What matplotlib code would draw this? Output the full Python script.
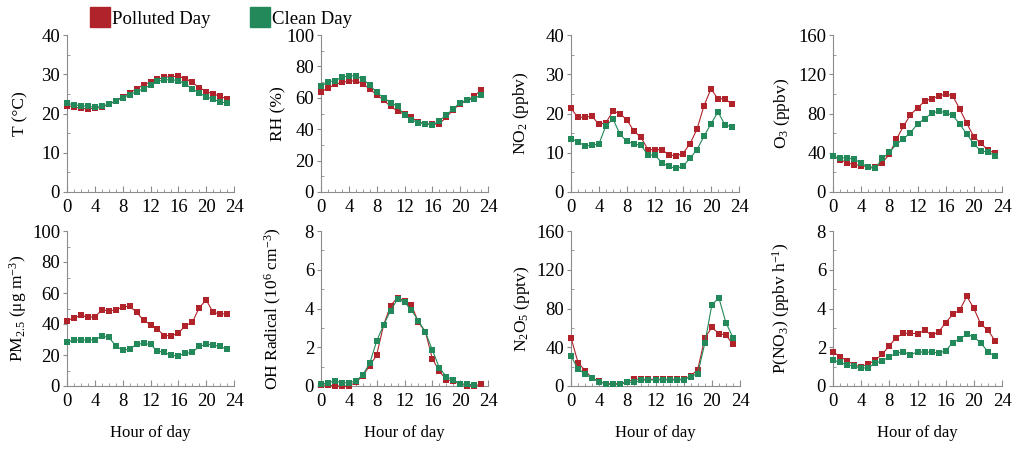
import numpy as np
import matplotlib
matplotlib.use("Agg")
import matplotlib.pyplot as plt
from matplotlib.lines import Line2D
from matplotlib.ticker import MultipleLocator

plt.rcParams['font.family'] = ['Liberation Serif', 'DejaVu Serif']
plt.rcParams['mathtext.fontset'] = 'custom'
plt.rcParams['mathtext.rm'] = 'Liberation Serif'
plt.rcParams['mathtext.it'] = 'Liberation Serif:italic'

hours = np.arange(24)

t_poll = [22.0, 21.7, 21.3, 21.2, 21.3, 21.6, 22.3, 23.2, 24.2, 25.3, 26.3, 27.3,
          28.0, 28.7, 29.2, 29.4, 29.5, 28.9, 27.9, 26.6, 25.6, 25.0, 24.4, 23.7]
t_clean = [22.6, 22.2, 22.0, 21.8, 21.6, 21.8, 22.4, 23.2, 24.0, 24.8, 25.6, 26.3,
           27.3, 28.2, 28.6, 28.6, 28.4, 27.5, 26.3, 25.2, 24.3, 23.6, 23.0, 22.6]

rh_poll = [64, 66, 68.5, 70, 70.5, 71, 69, 65.5, 62, 58.5, 54.5, 51.5,
           49.5, 47.5, 44.5, 43.5, 43, 43.5, 47.5, 52.5, 56, 58.5, 61, 65]
rh_clean = [67.5, 70, 71, 73, 74, 74, 72, 68, 63.5, 60, 57, 54.5,
            49, 46, 44, 43.5, 42.5, 45.5, 49, 53, 57, 58.5, 59.5, 62]

no2_poll = [21.3, 19.0, 19.1, 19.3, 17.2, 17.7, 20.6, 20.0, 18.3, 15.5, 13.9, 10.8,
            10.8, 10.8, 9.4, 9.2, 9.8, 12.3, 16.0, 22.0, 26.3, 23.7, 23.8, 22.3]
no2_clean = [13.6, 12.8, 11.7, 11.9, 12.3, 16.9, 18.6, 14.7, 12.9, 12.3, 11.9, 9.4,
             9.4, 7.4, 6.5, 6.0, 6.6, 8.6, 10.8, 14.2, 17.4, 20.4, 17.1, 16.6]

o3_poll = [36.6, 33, 30, 27.7, 27, 25.7, 25, 30, 38.4, 53.8, 66.8, 78.8,
           85.6, 92.5, 95.2, 97.6, 100, 98, 84.6, 69.9, 56.5, 49.7, 42.8, 39.4]
o3_clean = [36.3, 34.6, 34.9, 33.2, 29.8, 25, 24, 34.2, 40.4, 48.6, 54.1, 60.6,
            69.2, 74.7, 80.1, 82.5, 80.8, 78, 69.2, 58.9, 49, 41.8, 40.8, 37]

pm_poll = [42, 44, 45.5, 44.5, 44.5, 49, 48.5, 49, 51, 51.5, 47.5, 42.5,
           39.5, 36.5, 32.5, 32.5, 34, 39, 41, 50.5, 55.5, 47.5, 46.5, 46.5]
pm_clean = [28.5, 29.5, 29.7, 29.7, 30, 32, 31.5, 26, 23, 24, 26.8, 27.5,
            26.8, 22.5, 21.7, 19.7, 19.5, 21, 21.7, 25.5, 26.8, 26.5, 25.5, 23.7]

oh_poll = [0.05, 0.05, 0.0, 0.0, 0.0, 0.19, 0.52, 1.05, 1.6, 3.15, 4.15, 4.56,
           4.39, 4.18, 3.29, 2.8, 1.41, 0.77, 0.33, 0.26, 0.09, 0.02, 0.0, 0.09]
oh_clean = [0.09, 0.17, 0.26, 0.17, 0.17, 0.26, 0.57, 1.17, 2.32, 3.15, 3.89, 4.49,
            4.32, 3.92, 3.36, 2.79, 1.86, 0.95, 0.48, 0.33, 0.09, 0.12, 0.03, np.nan]

n2o5_poll = [50, 24, 16, 8, 4.8, 2.4, 2.4, 2.4, 4.5, 6.9, 6.9, 6.9,
             6.9, 6.9, 6.9, 6.9, 6.9, 10.4, 17, 49.5, 60.5, 54, 52.6, 43]
n2o5_clean = [31, 17.6, 12.5, 7.9, 4.5, 1.7, 1.7, 1.7, 3.8, 3.8, 5.9, 6.2,
              6.2, 6.5, 6.2, 6.2, 6.5, 9.7, 12.8, 44, 83.7, 91, 65.4, 50]

pno3_poll = [1.77, 1.51, 1.31, 1.08, 1.0, 1.12, 1.34, 1.64, 2.08, 2.5, 2.72, 2.72,
             2.7, 2.87, 2.63, 2.79, 3.27, 3.7, 3.92, 4.63, 4.01, 3.18, 2.89, 2.34]
pno3_clean = [1.34, 1.22, 1.08, 1.03, 0.91, 0.95, 1.17, 1.31, 1.51, 1.69, 1.77, 1.6,
              1.77, 1.74, 1.76, 1.7, 1.82, 2.24, 2.43, 2.67, 2.53, 2.22, 1.77, 1.53]

ylabels = ['T (°C)', 'RH (%)', 'NO$_2$ (ppbv)', 'O$_3$ (ppbv)',
           'PM$_{2.5}$ (μg m$^{-3}$)', 'OH Radical (10$^6$ cm$^{-3}$)',
           'N$_2$O$_5$ (pptv)', 'P(NO$_3$) (ppbv h$^{-1}$)']
ymax = [40, 100, 40, 160, 100, 8, 160, 8]
ystep = [10, 20, 10, 40, 20, 2, 40, 2]
series = [(t_poll, t_clean), (rh_poll, rh_clean), (no2_poll, no2_clean),
          (o3_poll, o3_clean), (pm_poll, pm_clean), (oh_poll, oh_clean),
          (n2o5_poll, n2o5_clean), (pno3_poll, pno3_clean)]

red = '#B0232B'
green = '#23885A'
axis_col = '#8c8c8c'

W, H = 1021, 455
fig = plt.figure(figsize=(W / 100, H / 100), dpi=100)

# pixel boxes: left, top, right, bottom
boxes = [(67, 35, 234, 192), (321, 35, 488, 192), (571, 35, 739, 192), (833, 35, 1002, 192),
         (67, 231, 234, 386), (321, 231, 488, 386), (571, 231, 740, 386), (833, 231, 1002, 386)]
label_x = [-0.23, -0.21, -0.24, -0.24, -0.23, -0.22, -0.23, -0.24]

for i, (l, t, r, b) in enumerate(boxes):
    ax = fig.add_axes([l / W, 1 - b / H, (r - l) / W, (b - t) / H])
    p, c = series[i]
    ax.plot(hours, p, '-s', color=red, ms=3.8, mew=0, lw=0.8, clip_on=False, zorder=3)
    ax.plot(hours, c, '-s', color=green, ms=3.8, mew=0, lw=0.8, clip_on=False, zorder=4)
    ax.set_xlim(0, 24)
    ax.set_ylim(0, ymax[i])
    ax.xaxis.set_major_locator(MultipleLocator(4))
    ax.xaxis.set_minor_locator(MultipleLocator(1))
    ax.yaxis.set_major_locator(MultipleLocator(ystep[i]))
    ax.yaxis.set_minor_locator(MultipleLocator(ystep[i] / 2))
    for s in ['top', 'right']:
        ax.spines[s].set_visible(False)
    for s in ['left', 'bottom']:
        ax.spines[s].set_color(axis_col)
        ax.spines[s].set_linewidth(0.8)
    ax.tick_params(axis='x', which='major', direction='in', length=4, color=axis_col,
                   labelsize=13.5, pad=5)
    ax.tick_params(axis='x', which='minor', direction='in', length=2.5, color=axis_col)
    ax.tick_params(axis='y', which='major', direction='out', length=3, color=axis_col,
                   labelsize=13.5, pad=2)
    ax.tick_params(axis='y', which='minor', direction='in', length=2.5, color=axis_col)
    ax.set_ylabel(ylabels[i], fontsize=12.5)
    ax.yaxis.set_label_coords(label_x[i], 0.5)
    if i >= 4:
        ax.set_xlabel('Hour of day', fontsize=12, labelpad=11)

handles = [Line2D([], [], marker='s', ls='none', color=red, ms=15),
           Line2D([], [], marker='s', ls='none', color=green, ms=15)]
fig.legend(handles, ['Polluted Day', 'Clean Day'], loc='upper left',
           bbox_to_anchor=(72 / W, 1 + 6 / H), ncol=2, frameon=False, fontsize=13.5,
           handletextpad=0.05, columnspacing=2.0, handlelength=1.2)

fig.savefig('out.png', dpi=100)
